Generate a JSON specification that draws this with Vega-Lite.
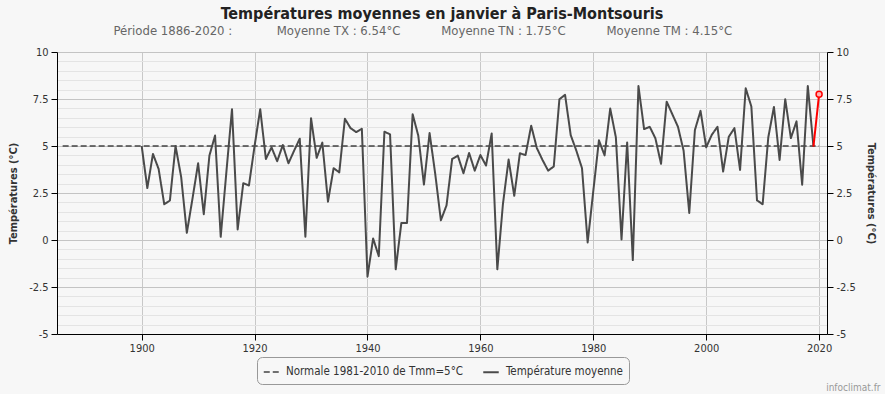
{
  "$schema": "https://vega.github.io/schema/vega-lite/v6.json",
  "autosize": "none",
  "width": 770,
  "height": 282,
  "padding": {"left": 57, "top": 52, "right": 58, "bottom": 60},
  "background": "#f7f7f7",
  "config": {"view": {"stroke": null}, "font": "DejaVu Sans Condensed, Liberation Sans Narrow, DejaVu Sans, sans-serif"},
  "title": {
    "text": "Températures moyennes en janvier à Paris-Montsouris",
    "subtitle": "Période 1886-2020 :\u00a0\u00a0\u00a0\u00a0\u00a0\u00a0\u00a0\u00a0\u00a0\u00a0\u00a0\u00a0Moyenne TX : 6.54°C\u00a0\u00a0\u00a0\u00a0\u00a0\u00a0\u00a0\u00a0\u00a0\u00a0\u00a0Moyenne TN : 1.75°C\u00a0\u00a0\u00a0\u00a0\u00a0\u00a0\u00a0\u00a0\u00a0\u00a0\u00a0Moyenne TM : 4.15°C\u00a0\u00a0\u00a0\u00a0\u00a0\u00a0\u00a0\u00a0\u2800",
    "anchor": "middle",
    "frame": "group",
    "fontSize": 16,
    "fontWeight": "bold",
    "color": "#222222",
    "subtitleFontSize": 13,
    "subtitleColor": "#666666",
    "subtitlePadding": 3,
    "offset": 8
  },
  "datasets": {
    "series": [
      {"annee": 1886, "temperature": 5, "serie": "Normale 1981-2010 de Tmm=5°C"},
      {"annee": 2020, "temperature": 5, "serie": "Normale 1981-2010 de Tmm=5°C"},
      {"annee": 1900, "temperature": 5.0, "serie": "Température moyenne"},
      {"annee": 1901, "temperature": 2.76, "serie": "Température moyenne"},
      {"annee": 1902, "temperature": 4.58, "serie": "Température moyenne"},
      {"annee": 1903, "temperature": 3.78, "serie": "Température moyenne"},
      {"annee": 1904, "temperature": 1.9, "serie": "Température moyenne"},
      {"annee": 1905, "temperature": 2.1, "serie": "Température moyenne"},
      {"annee": 1906, "temperature": 5.0, "serie": "Température moyenne"},
      {"annee": 1907, "temperature": 3.34, "serie": "Température moyenne"},
      {"annee": 1908, "temperature": 0.38, "serie": "Température moyenne"},
      {"annee": 1909, "temperature": 2.2, "serie": "Température moyenne"},
      {"annee": 1910, "temperature": 4.08, "serie": "Température moyenne"},
      {"annee": 1911, "temperature": 1.37, "serie": "Température moyenne"},
      {"annee": 1912, "temperature": 4.49, "serie": "Température moyenne"},
      {"annee": 1913, "temperature": 5.56, "serie": "Température moyenne"},
      {"annee": 1914, "temperature": 0.17, "serie": "Température moyenne"},
      {"annee": 1915, "temperature": 3.6, "serie": "Température moyenne"},
      {"annee": 1916, "temperature": 6.96, "serie": "Température moyenne"},
      {"annee": 1917, "temperature": 0.56, "serie": "Température moyenne"},
      {"annee": 1918, "temperature": 3.02, "serie": "Température moyenne"},
      {"annee": 1919, "temperature": 2.9, "serie": "Température moyenne"},
      {"annee": 1920, "temperature": 5.0, "serie": "Température moyenne"},
      {"annee": 1921, "temperature": 6.96, "serie": "Température moyenne"},
      {"annee": 1922, "temperature": 4.31, "serie": "Température moyenne"},
      {"annee": 1923, "temperature": 4.93, "serie": "Température moyenne"},
      {"annee": 1924, "temperature": 4.19, "serie": "Température moyenne"},
      {"annee": 1925, "temperature": 5.05, "serie": "Température moyenne"},
      {"annee": 1926, "temperature": 4.08, "serie": "Température moyenne"},
      {"annee": 1927, "temperature": 4.75, "serie": "Température moyenne"},
      {"annee": 1928, "temperature": 5.39, "serie": "Température moyenne"},
      {"annee": 1929, "temperature": 0.17, "serie": "Température moyenne"},
      {"annee": 1930, "temperature": 6.48, "serie": "Température moyenne"},
      {"annee": 1931, "temperature": 4.37, "serie": "Température moyenne"},
      {"annee": 1932, "temperature": 5.18, "serie": "Température moyenne"},
      {"annee": 1933, "temperature": 2.04, "serie": "Température moyenne"},
      {"annee": 1934, "temperature": 3.82, "serie": "Température moyenne"},
      {"annee": 1935, "temperature": 3.6, "serie": "Température moyenne"},
      {"annee": 1936, "temperature": 6.45, "serie": "Température moyenne"},
      {"annee": 1937, "temperature": 5.95, "serie": "Température moyenne"},
      {"annee": 1938, "temperature": 5.74, "serie": "Température moyenne"},
      {"annee": 1939, "temperature": 5.92, "serie": "Température moyenne"},
      {"annee": 1940, "temperature": -1.95, "serie": "Température moyenne"},
      {"annee": 1941, "temperature": 0.08, "serie": "Température moyenne"},
      {"annee": 1942, "temperature": -0.86, "serie": "Température moyenne"},
      {"annee": 1943, "temperature": 5.76, "serie": "Température moyenne"},
      {"annee": 1944, "temperature": 5.62, "serie": "Température moyenne"},
      {"annee": 1945, "temperature": -1.56, "serie": "Température moyenne"},
      {"annee": 1946, "temperature": 0.91, "serie": "Température moyenne"},
      {"annee": 1947, "temperature": 0.91, "serie": "Température moyenne"},
      {"annee": 1948, "temperature": 6.69, "serie": "Température moyenne"},
      {"annee": 1949, "temperature": 5.55, "serie": "Température moyenne"},
      {"annee": 1950, "temperature": 2.95, "serie": "Température moyenne"},
      {"annee": 1951, "temperature": 5.69, "serie": "Température moyenne"},
      {"annee": 1952, "temperature": 3.52, "serie": "Température moyenne"},
      {"annee": 1953, "temperature": 1.05, "serie": "Température moyenne"},
      {"annee": 1954, "temperature": 1.84, "serie": "Température moyenne"},
      {"annee": 1955, "temperature": 4.31, "serie": "Température moyenne"},
      {"annee": 1956, "temperature": 4.49, "serie": "Température moyenne"},
      {"annee": 1957, "temperature": 3.55, "serie": "Température moyenne"},
      {"annee": 1958, "temperature": 4.63, "serie": "Température moyenne"},
      {"annee": 1959, "temperature": 3.69, "serie": "Température moyenne"},
      {"annee": 1960, "temperature": 4.52, "serie": "Température moyenne"},
      {"annee": 1961, "temperature": 3.96, "serie": "Température moyenne"},
      {"annee": 1962, "temperature": 5.67, "serie": "Température moyenne"},
      {"annee": 1963, "temperature": -1.56, "serie": "Température moyenne"},
      {"annee": 1964, "temperature": 1.93, "serie": "Température moyenne"},
      {"annee": 1965, "temperature": 4.28, "serie": "Température moyenne"},
      {"annee": 1966, "temperature": 2.35, "serie": "Température moyenne"},
      {"annee": 1967, "temperature": 4.61, "serie": "Température moyenne"},
      {"annee": 1968, "temperature": 4.52, "serie": "Température moyenne"},
      {"annee": 1969, "temperature": 6.08, "serie": "Température moyenne"},
      {"annee": 1970, "temperature": 4.89, "serie": "Température moyenne"},
      {"annee": 1971, "temperature": 4.26, "serie": "Température moyenne"},
      {"annee": 1972, "temperature": 3.69, "serie": "Température moyenne"},
      {"annee": 1973, "temperature": 3.91, "serie": "Température moyenne"},
      {"annee": 1974, "temperature": 7.49, "serie": "Température moyenne"},
      {"annee": 1975, "temperature": 7.72, "serie": "Température moyenne"},
      {"annee": 1976, "temperature": 5.58, "serie": "Température moyenne"},
      {"annee": 1977, "temperature": 4.75, "serie": "Température moyenne"},
      {"annee": 1978, "temperature": 3.82, "serie": "Température moyenne"},
      {"annee": 1979, "temperature": -0.13, "serie": "Température moyenne"},
      {"annee": 1980, "temperature": 2.6, "serie": "Température moyenne"},
      {"annee": 1981, "temperature": 5.3, "serie": "Température moyenne"},
      {"annee": 1982, "temperature": 4.5, "serie": "Température moyenne"},
      {"annee": 1983, "temperature": 6.99, "serie": "Température moyenne"},
      {"annee": 1984, "temperature": 5.46, "serie": "Température moyenne"},
      {"annee": 1985, "temperature": 0.03, "serie": "Température moyenne"},
      {"annee": 1986, "temperature": 5.19, "serie": "Température moyenne"},
      {"annee": 1987, "temperature": -1.07, "serie": "Température moyenne"},
      {"annee": 1988, "temperature": 8.19, "serie": "Température moyenne"},
      {"annee": 1989, "temperature": 5.9, "serie": "Température moyenne"},
      {"annee": 1990, "temperature": 6.02, "serie": "Température moyenne"},
      {"annee": 1991, "temperature": 5.41, "serie": "Température moyenne"},
      {"annee": 1992, "temperature": 4.05, "serie": "Température moyenne"},
      {"annee": 1993, "temperature": 7.36, "serie": "Température moyenne"},
      {"annee": 1994, "temperature": 6.69, "serie": "Température moyenne"},
      {"annee": 1995, "temperature": 6.02, "serie": "Température moyenne"},
      {"annee": 1996, "temperature": 4.75, "serie": "Température moyenne"},
      {"annee": 1997, "temperature": 1.44, "serie": "Température moyenne"},
      {"annee": 1998, "temperature": 5.85, "serie": "Température moyenne"},
      {"annee": 1999, "temperature": 6.87, "serie": "Température moyenne"},
      {"annee": 2000, "temperature": 4.93, "serie": "Température moyenne"},
      {"annee": 2001, "temperature": 5.6, "serie": "Température moyenne"},
      {"annee": 2002, "temperature": 6.02, "serie": "Température moyenne"},
      {"annee": 2003, "temperature": 3.64, "serie": "Température moyenne"},
      {"annee": 2004, "temperature": 5.49, "serie": "Température moyenne"},
      {"annee": 2005, "temperature": 5.95, "serie": "Température moyenne"},
      {"annee": 2006, "temperature": 3.73, "serie": "Température moyenne"},
      {"annee": 2007, "temperature": 8.07, "serie": "Température moyenne"},
      {"annee": 2008, "temperature": 7.1, "serie": "Température moyenne"},
      {"annee": 2009, "temperature": 2.11, "serie": "Température moyenne"},
      {"annee": 2010, "temperature": 1.9, "serie": "Température moyenne"},
      {"annee": 2011, "temperature": 5.46, "serie": "Température moyenne"},
      {"annee": 2012, "temperature": 7.08, "serie": "Température moyenne"},
      {"annee": 2013, "temperature": 4.26, "serie": "Température moyenne"},
      {"annee": 2014, "temperature": 7.49, "serie": "Température moyenne"},
      {"annee": 2015, "temperature": 5.42, "serie": "Température moyenne"},
      {"annee": 2016, "temperature": 6.31, "serie": "Température moyenne"},
      {"annee": 2017, "temperature": 2.94, "serie": "Température moyenne"},
      {"annee": 2018, "temperature": 8.19, "serie": "Température moyenne"},
      {"annee": 2019, "temperature": 4.97, "serie": "Température moyenne"}
    ],
    "courant": [
      {"annee": 2019, "temperature": 4.97},
      {"annee": 2020, "temperature": 7.75}
    ],
    "dernier": [
      {"annee": 2020, "temperature": 7.75}
    ]
  },
  "layer": [
    {
      "data": {"name": "series"},
      "mark": {"type": "line", "strokeJoin": "round"},
      "encoding": {
        "x": {
          "field": "annee", "type": "quantitative",
          "scale": {"domain": [1885, 2021.4], "nice": false, "zero": false},
          "axis": {
            "values": [1900, 1920, 1940, 1960, 1980, 2000, 2020],
            "format": "d",
            "grid": true, "gridColor": "#c8c8c8",
            "domainColor": "#000000", "tickColor": "#000000", "tickSize": 6,
            "labelFontSize": 11, "labelColor": "#333333", "labelPadding": 2,
            "title": "infoclimat.fr", "titleFontSize": 10, "titleFontWeight": "normal",
            "titleColor": "#999999", "titleAlign": "right", "titleBaseline": "alphabetic",
            "titleX": 823, "titleY": 56
          }
        },
        "y": {
          "field": "temperature", "type": "quantitative",
          "scale": {"domain": [-5, 10], "nice": false, "zero": false},
          "axis": {
            "orient": "left",
            "values": [-5, -4.5, -4, -3.5, -3, -2.5, -2, -1.5, -1, -0.5, 0, 0.5, 1, 1.5, 2, 2.5, 3, 3.5, 4, 4.5, 5, 5.5, 6, 6.5, 7, 7.5, 8, 8.5, 9, 9.5, 10],
            "labelExpr": "abs(datum.value % 2.5) < 0.001 ? '' + datum.value : ''",
            "grid": true,
            "gridColor": {"condition": {"test": "abs(datum.value % 2.5) < 0.001", "value": "#c4c4c4"}, "value": "#e4e4e4"},
            "tickOpacity": {"condition": {"test": "abs(datum.value % 2.5) < 0.001", "value": 1}, "value": 0},
            "tickColor": "#000000", "tickSize": 6,
            "domainColor": "#000000",
            "labelFontSize": 11, "labelColor": "#333333", "labelPadding": 3,
            "title": "Températures (°C)", "titleFontSize": 11, "titleFontWeight": "bold",
            "titleColor": "#333333", "titlePadding": 10
          }
        },
        "color": {
          "field": "serie", "type": "nominal",
          "scale": {"domain": ["Normale 1981-2010 de Tmm=5°C", "Température moyenne"], "range": ["#444444", "#4a4a4a"]},
          "legend": {
            "orient": "none", "legendX": 200, "legendY": 305, "direction": "horizontal",
            "title": null, "symbolType": "stroke", "symbolSize": 240, "symbolStrokeWidth": 2,
            "labelFontSize": 11.5, "labelColor": "#333333", "labelOffset": 6, "labelLimit": 400,
            "strokeColor": "#999999", "cornerRadius": 5, "padding": 6, "columnPadding": 15
          }
        },
        "strokeDash": {
          "field": "serie", "type": "nominal",
          "scale": {"domain": ["Normale 1981-2010 de Tmm=5°C", "Température moyenne"], "range": [[6, 3], [1, 0]]},
          "legend": {
            "orient": "none", "legendX": 200, "legendY": 305, "direction": "horizontal",
            "title": null, "symbolType": "stroke", "symbolSize": 240, "symbolStrokeWidth": 2,
            "labelFontSize": 11.5, "labelColor": "#333333", "labelOffset": 6, "labelLimit": 400,
            "strokeColor": "#999999", "cornerRadius": 5, "padding": 6, "columnPadding": 15
          }
        },
        "strokeWidth": {
          "field": "serie", "type": "nominal",
          "scale": {"domain": ["Normale 1981-2010 de Tmm=5°C", "Température moyenne"], "range": [1.5, 2]},
          "legend": null
        }
      }
    },
    {
      "data": {"name": "courant"},
      "mark": {"type": "line", "color": "#ff0000", "strokeWidth": 2},
      "encoding": {
        "x": {
          "field": "annee", "type": "quantitative",
          "axis": {
            "values": [1900, 1920, 1940, 1960, 1980, 2000, 2020],
            "format": "d",
            "grid": true, "gridColor": "#c8c8c8",
            "domainColor": "#000000", "tickColor": "#000000", "tickSize": 6,
            "labelFontSize": 11, "labelColor": "#333333", "labelPadding": 2,
            "title": "infoclimat.fr", "titleFontSize": 10, "titleFontWeight": "normal",
            "titleColor": "#999999", "titleAlign": "right", "titleBaseline": "alphabetic",
            "titleX": 823, "titleY": 56
          }
        },
        "y": {
          "field": "temperature", "type": "quantitative",
          "axis": {
            "orient": "right",
            "values": [-5, -2.5, 0, 2.5, 5, 7.5, 10],
            "labelExpr": "'' + datum.value",
            "grid": false,
            "tickColor": "#000000", "tickSize": 6,
            "domainColor": "#000000",
            "labelFontSize": 11, "labelColor": "#333333", "labelPadding": 3,
            "title": "Températures (°C)", "titleFontSize": 11, "titleFontWeight": "bold",
            "titleColor": "#333333", "titlePadding": 10
          }
        }
      }
    },
    {
      "data": {"name": "dernier"},
      "mark": {"type": "point", "shape": "circle", "size": 36, "stroke": "#ff0000", "fill": "#ffb0b0", "filled": true, "strokeWidth": 1.5, "opacity": 1},
      "encoding": {
        "x": {
          "field": "annee", "type": "quantitative",
          "axis": {
            "values": [1900, 1920, 1940, 1960, 1980, 2000, 2020],
            "format": "d",
            "grid": true, "gridColor": "#c8c8c8",
            "domainColor": "#000000", "tickColor": "#000000", "tickSize": 6,
            "labelFontSize": 11, "labelColor": "#333333", "labelPadding": 2,
            "title": "infoclimat.fr", "titleFontSize": 10, "titleFontWeight": "normal",
            "titleColor": "#999999", "titleAlign": "right", "titleBaseline": "alphabetic",
            "titleX": 823, "titleY": 56
          }
        },
        "y": {"field": "temperature", "type": "quantitative", "axis": null}
      }
    }
  ],
  "resolve": {"axis": {"y": "independent"}}
}
